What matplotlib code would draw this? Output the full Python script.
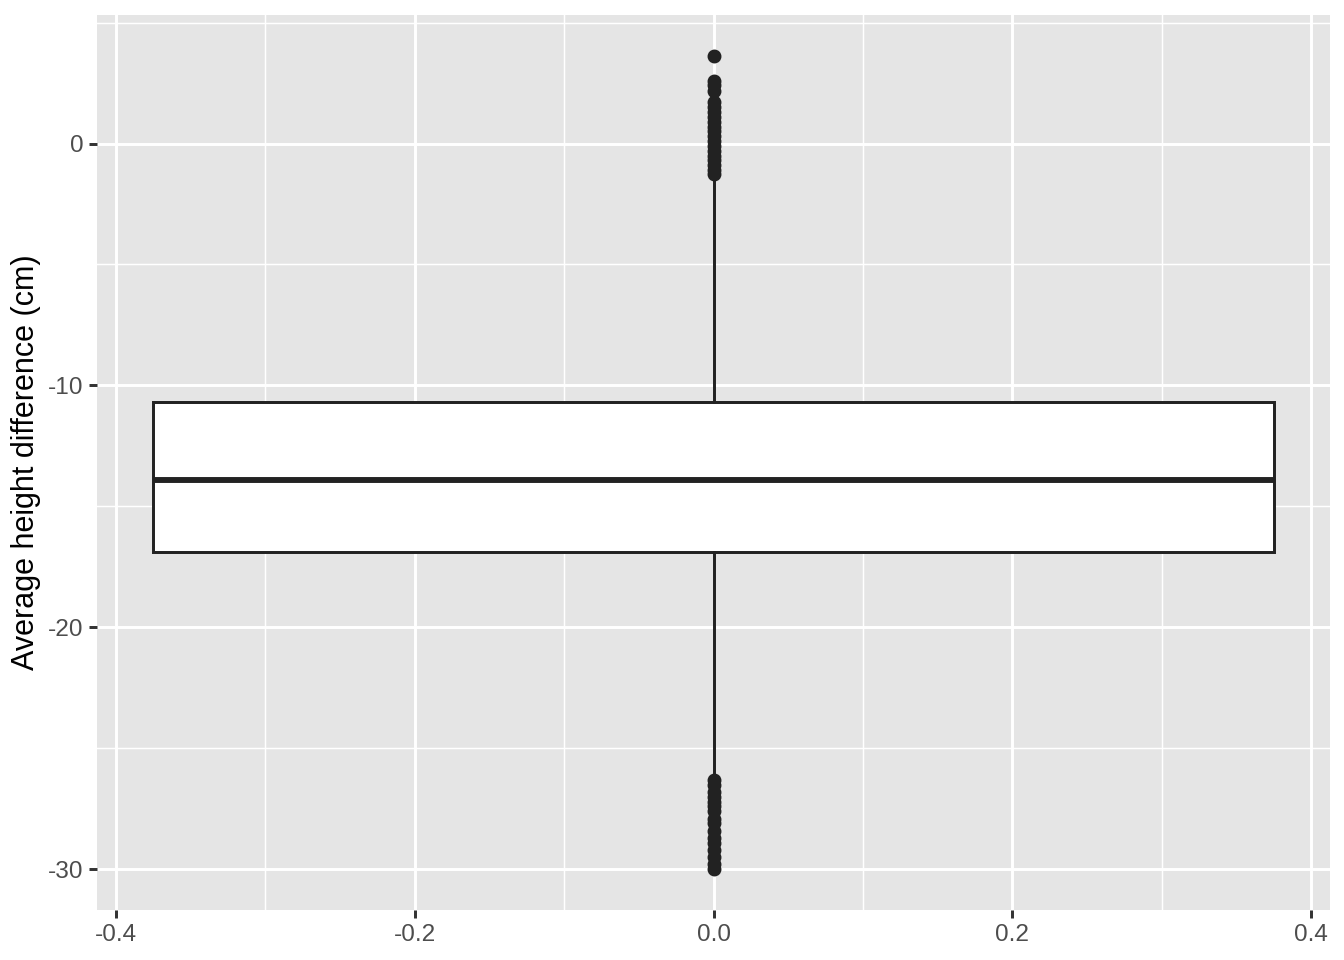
import matplotlib.pyplot as plt
import numpy as np

plt.rcParams["font.family"] = ["Liberation Sans", "DejaVu Sans"]

# ----------------------------
# Box statistics (cm)
# ----------------------------
q1 = -16.9
median = -13.9
q3 = -10.7
whisker_low = -26.1
whisker_high = -1.35
outliers_high = [3.63, 2.6, 2.4, 2.15, 1.7, 1.5, 1.3, 1.1, 0.9, 0.7, 0.5, 0.3, 0.1,
                 -0.1, -0.3, -0.5, -0.7, -0.9, -1.1, -1.25]
outliers_low = [-26.3, -26.5, -26.8, -27.0, -27.2, -27.4, -27.6, -27.9, -28.1,
                -28.4, -28.7, -28.9, -29.2, -29.5, -29.8, -30.0]
box_pos = 0.0
box_width = 0.75

x_ticks = [-0.4, -0.2, 0.0, 0.2, 0.4]
x_minor = [-0.3, -0.1, 0.1, 0.3]
y_ticks = [0, -10, -20, -30]
y_minor = [5, -5, -15, -25]
ylabel = "Average height difference (cm)"

# ----------------------------
# Figure
# ----------------------------
fig = plt.figure(figsize=(6.72, 4.8), dpi=200)
ax = fig.add_axes([97 / 1344, 1 - 910 / 960, (1330 - 97) / 1344, (910 - 15) / 960])
ax.set_facecolor("#E5E5E5")
for s in ax.spines.values():
    s.set_visible(False)

ax.set_axisbelow(True)
for v in x_ticks:
    ax.axvline(v, color="white", lw=1.07, zorder=0)
for v in x_minor:
    ax.axvline(v, color="white", lw=0.53, zorder=0)
for v in y_ticks:
    ax.axhline(v, color="white", lw=1.07, zorder=0)
for v in y_minor:
    ax.axhline(v, color="white", lw=0.53, zorder=0)

dark = "#222222"
stats = [{
    "med": median, "q1": q1, "q3": q3,
    "whislo": whisker_low, "whishi": whisker_high,
    "fliers": np.array(outliers_high + outliers_low),
}]
ax.bxp(stats, positions=[box_pos], widths=box_width, patch_artist=True,
       showcaps=False,
       boxprops=dict(facecolor="white", edgecolor=dark, lw=1.07),
       medianprops=dict(color=dark, lw=2.13, solid_capstyle="butt"),
       whiskerprops=dict(color=dark, lw=1.07),
       flierprops=dict(marker="o", markerfacecolor=dark, markeredgecolor=dark,
                       markersize=4.0, lw=0))

all_y = outliers_high + outliers_low
yr = max(all_y) - min(all_y)
ax.set_ylim(min(all_y) - 0.05 * yr, max(all_y) + 0.05 * yr)
ax.set_xlim(-0.4125, 0.4125)

ax.set_xticks(x_ticks)
ax.set_xticklabels([f"{v:.1f}" for v in x_ticks])
ax.set_yticks(y_ticks)
ax.set_yticklabels([str(v) for v in y_ticks])
ax.tick_params(axis="both", length=2.75, width=1.07, color="#333333",
               labelsize=8.8, labelcolor="#4D4D4D", pad=2.2)
ax.set_ylabel(ylabel, fontsize=11, color="black", labelpad=2.5)

fig.savefig("out.png", dpi=200)
